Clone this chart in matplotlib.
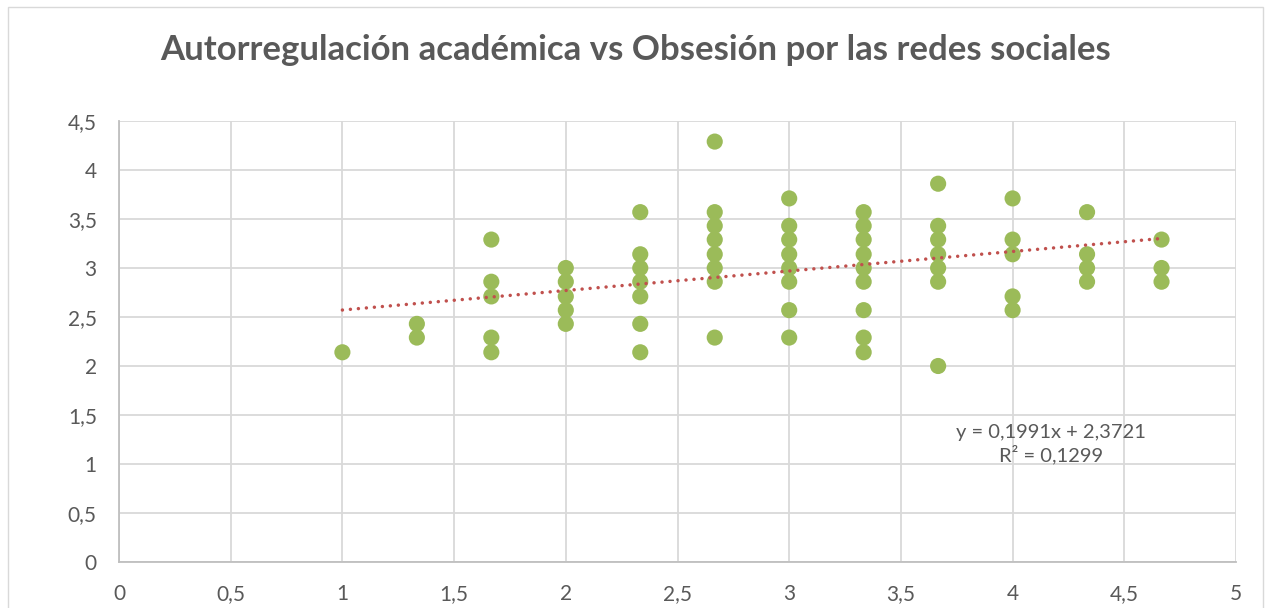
import matplotlib
matplotlib.use("Agg")
import matplotlib.pyplot as plt
from matplotlib.ticker import FuncFormatter, MultipleLocator
from matplotlib.patches import Rectangle

plt.rcParams['font.family'] = ['Lato', 'DejaVu Sans']

title = "Autorregulación académica vs Obsesión por las redes sociales"

# Data (x = Obsesión por las redes sociales, y = Autorregulación académica)
x_vals = (
    [1.0]
    + [4/3] * 2
    + [5/3] * 5
    + [2.0] * 5
    + [7/3] * 7
    + [8/3] * 8
    + [3.0] * 8
    + [10/3] * 9
    + [11/3] * 7
    + [4.0] * 5
    + [13/3] * 4
    + [14/3] * 3
)
y_vals = (
    [2.14]
    + [2.29, 2.43]
    + [2.14, 2.29, 2.71, 2.86, 3.29]
    + [2.43, 2.57, 2.71, 2.86, 3.00]
    + [2.14, 2.43, 2.71, 2.86, 3.00, 3.14, 3.57]
    + [2.29, 2.86, 3.00, 3.14, 3.29, 3.43, 3.57, 4.29]
    + [2.29, 2.57, 2.86, 3.00, 3.14, 3.29, 3.43, 3.71]
    + [2.14, 2.29, 2.57, 2.86, 3.00, 3.14, 3.29, 3.43, 3.57]
    + [2.00, 2.86, 3.00, 3.14, 3.29, 3.43, 3.86]
    + [2.57, 2.71, 3.14, 3.29, 3.71]
    + [2.86, 3.00, 3.14, 3.57]
    + [2.86, 3.00, 3.29]
)

slope = 0.1991
intercept = 2.3721
r2 = 0.1299
trend_x = [1.0, 14/3]
trend_y = [slope * v + intercept for v in trend_x]

eq_text = "y = 0,1991x + 2,3721\nR² = 0,1299"

text_color = "#595959"
grid_color = "#D9D9D9"
axis_color = "#BFBFBF"

fig = plt.figure(figsize=(12.66, 6.08), dpi=100)
fig.patches.append(Rectangle((8/1266, -0.05), (1263-8)/1266, 1.05 - 7/608,
                             transform=fig.transFigure, fill=False,
                             edgecolor="#D9D9D9", linewidth=1.0))

ax = fig.add_axes([119/1266, 1 - 562/608, (1236-119)/1266, (562-121)/608])

ax.scatter(x_vals, y_vals, s=135, color="#9BBB59", edgecolors="none", zorder=3)
ax.plot(trend_x, trend_y, color="#C0504D", linewidth=2.5,
        linestyle=(0, (0.01, 2.3)), dash_capstyle="round", zorder=4)

ax.set_xlim(0, 5)
ax.set_ylim(0, 4.5)
ax.xaxis.set_major_locator(MultipleLocator(0.5))
ax.yaxis.set_major_locator(MultipleLocator(0.5))
fmt = FuncFormatter(lambda v, p: ("%g" % v).replace(".", ","))
ax.xaxis.set_major_formatter(fmt)
ax.yaxis.set_major_formatter(fmt)

ax.grid(True, color=grid_color, linewidth=1.3, zorder=0)
ax.set_axisbelow(True)
for side in ["top", "right"]:
    ax.spines[side].set_visible(False)
for side in ["bottom", "left"]:
    ax.spines[side].set_color(axis_color)
    ax.spines[side].set_linewidth(1.3)
ax.tick_params(axis="both", length=0, labelsize=15, labelcolor=text_color)
ax.tick_params(axis="x", pad=16)
ax.tick_params(axis="y", pad=16)

ax.text(4.17, 1.20, eq_text, ha="center", va="center", fontsize=14.5,
        color=text_color, linespacing=1.2, zorder=5)

fig.text(636/1266, 1 - 50/608, title, ha="center", va="center",
         fontsize=25, fontweight="bold", color=text_color)

fig.savefig("out.png", dpi=100)
